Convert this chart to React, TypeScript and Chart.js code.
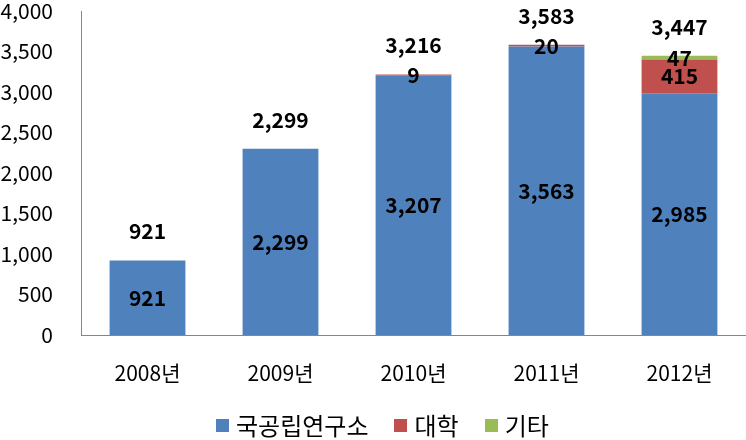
import React, { useEffect, useRef } from "react";
import { Chart, registerables } from "chart.js";

Chart.register(...registerables);

const categories = ["2008년", "2009년", "2010년", "2011년", "2012년"];
const seriesNames = ["국공립연구소", "대학", "기타"];
const institutes = [921, 2299, 3207, 3563, 2985];
const universities = [0, 0, 9, 20, 415];
const others = [0, 0, 0, 0, 47];
const totals = [921, 2299, 3216, 3583, 3447];
const yMax = 4000;
const yStep = 500;

const colors = ["#4F81BD", "#C0504D", "#9BBB59"];
const FONT = "'Noto Sans CJK KR', 'Noto Sans', sans-serif";

const fmt = (v: number) => v.toLocaleString("en-US");

const labelPlugin = {
  id: "barLabels",
  afterDatasetsDraw(chart: any) {
    const ctx = chart.ctx;
    ctx.save();
    ctx.font = `bold 21px ${FONT}`;
    ctx.fillStyle = "#000";
    ctx.textAlign = "center";
    ctx.textBaseline = "middle";
    chart.data.datasets.forEach((ds: any, i: number) => {
      const meta = chart.getDatasetMeta(i);
      meta.data.forEach((el: any, j: number) => {
        const v = ds.data[j];
        if (!v) return;
        const { x, y, base } = el.getProps(["x", "y", "base"], true);
        ctx.fillText(fmt(v), x, (y + base) / 2);
      });
    });
    const last = chart.getDatasetMeta(chart.data.datasets.length - 1);
    last.data.forEach((el: any, j: number) => {
      const { x, y } = el.getProps(["x", "y"], true);
      ctx.fillText(fmt(totals[j]), x, y - 29);
    });
    ctx.restore();
  },
};

export default function App() {
  const ref = useRef<HTMLCanvasElement | null>(null);
  useEffect(() => {
    if (!ref.current) return;
    const seriesData = [institutes, universities, others];
    const chart = new Chart(ref.current, {
      type: "bar",
      data: {
        labels: categories,
        datasets: seriesNames.map((name, i) => ({
          label: name,
          data: seriesData[i],
          backgroundColor: colors[i],
          borderWidth: 0,
          barPercentage: 0.57,
          categoryPercentage: 1,
        })),
      },
      options: {
        animation: false,
        responsive: false,
        maintainAspectRatio: false,
        layout: { padding: { top: 0, right: -3, left: 0, bottom: 55 } },
        plugins: { legend: { display: false }, tooltip: { enabled: false } },
        scales: {
          x: {
            stacked: true,
            grid: { display: false, drawTicks: false },
            border: { display: true, color: "#868686", width: 1 },
            ticks: { color: "#000", padding: 25, font: { family: FONT, size: 21 } },
            afterFit: (scale: any) => {
              scale.height = 50;
              scale.paddingLeft = 0;
              scale.paddingRight = 0;
            },
          },
          y: {
            stacked: true,
            min: 0,
            max: yMax,
            grid: { display: false, drawTicks: false },
            border: { display: true, color: "#868686", width: 1 },
            ticks: {
              stepSize: yStep,
              color: "#000",
              padding: 28,
              font: { family: FONT, size: 21 },
              callback: (v: any) => fmt(Number(v)),
            },
            afterFit: (scale: any) => {
              scale.width = 81;
              scale.paddingTop = 11;
              scale.paddingBottom = 0;
            },
          },
        },
      },
      plugins: [labelPlugin],
    });
    return () => chart.destroy();
  }, []);

  return (
    <div style={{ position: "fixed", left: 0, top: 0, width: 746, height: 440, background: "#fff" }}>
      <canvas ref={ref} width={746} height={440} style={{ position: "absolute", left: 0, top: 0 }} />
      <div
        style={{
          position: "absolute",
          left: 216,
          top: 410,
          height: 30,
          display: "flex",
          alignItems: "center",
          gap: 26,
          fontFamily: FONT,
          fontSize: 24,
          color: "#000",
          whiteSpace: "nowrap",
        }}
      >
        {seriesNames.map((n, i) => (
          <div key={n} style={{ display: "flex", alignItems: "center", gap: 7 }}>
            <span style={{ width: 13, height: 13, background: colors[i], display: "inline-block" }} />
            <span style={{ lineHeight: "30px" }}>{n}</span>
          </div>
        ))}
      </div>
    </div>
  );
}
